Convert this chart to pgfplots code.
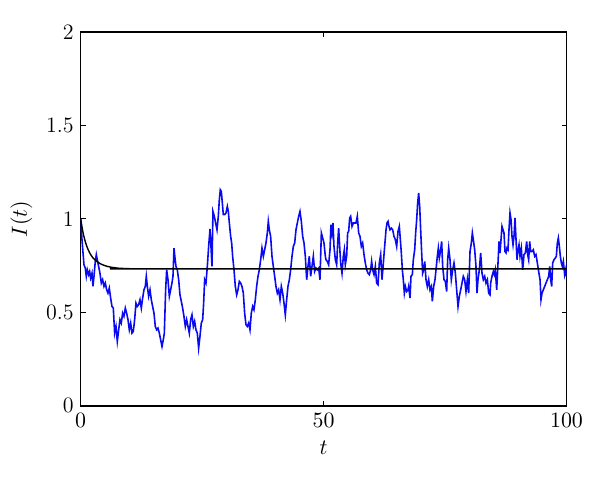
\documentclass[border=0pt]{standalone}
\usepackage{pgfplots}
\pgfplotsset{compat=1.18}

\pgfplotstableread{
t v
0.00 1.000
0.27 0.889
0.68 0.755
0.95 0.737
1.16 0.693
1.37 0.728
1.64 0.702
1.85 0.719
2.05 0.684
2.33 0.710
2.53 0.639
2.74 0.693
3.01 0.773
3.22 0.809
3.42 0.782
3.70 0.746
3.97 0.710
4.25 0.657
4.52 0.675
4.80 0.639
5.07 0.657
5.35 0.621
5.62 0.603
5.89 0.630
6.17 0.577
6.44 0.532
6.72 0.523
6.99 0.389
7.27 0.425
7.54 0.345
7.82 0.407
8.09 0.461
8.36 0.443
8.64 0.496
8.91 0.479
9.19 0.523
9.46 0.496
9.74 0.461
10.01 0.407
10.29 0.443
10.56 0.389
10.83 0.398
11.11 0.461
11.38 0.550
11.66 0.532
11.93 0.541
12.21 0.568
12.48 0.523
12.76 0.577
13.03 0.621
13.30 0.639
13.51 0.693
13.72 0.639
13.99 0.586
14.27 0.621
14.54 0.568
14.81 0.532
15.09 0.496
15.36 0.425
15.64 0.407
15.91 0.416
16.19 0.389
16.46 0.354
16.74 0.318
17.01 0.354
17.22 0.389
17.49 0.621
17.70 0.728
17.97 0.675
18.25 0.586
18.52 0.621
18.79 0.657
19.00 0.693
19.21 0.844
19.41 0.791
19.62 0.746
19.89 0.728
20.17 0.675
20.44 0.594
20.72 0.559
20.99 0.523
21.26 0.479
21.54 0.425
21.81 0.461
22.09 0.425
22.36 0.389
22.64 0.461
22.91 0.487
23.19 0.425
23.46 0.452
23.73 0.407
24.01 0.389
24.28 0.309
24.56 0.372
24.83 0.443
25.11 0.461
25.31 0.550
25.52 0.675
25.79 0.657
26.07 0.746
26.34 0.853
26.62 0.946
26.82 0.853
27.03 0.746
27.23 1.040
27.51 1.014
27.78 0.978
28.06 0.942
28.33 1.014
28.54 1.103
28.74 1.156
28.95 1.147
29.16 1.085
29.36 1.023
29.64 1.023
29.91 1.032
30.19 1.067
30.39 1.040
30.60 0.978
30.87 0.907
31.08 0.871
31.28 0.800
31.56 0.728
31.83 0.639
32.11 0.594
32.38 0.621
32.66 0.666
32.93 0.657
33.20 0.639
33.48 0.603
33.75 0.496
34.03 0.434
34.30 0.425
34.58 0.443
34.85 0.407
35.12 0.496
35.40 0.532
35.67 0.514
35.95 0.568
36.22 0.639
36.50 0.693
36.77 0.728
37.05 0.782
37.32 0.844
37.60 0.800
37.87 0.835
38.14 0.871
38.42 0.925
38.62 0.987
38.83 0.942
39.10 0.907
39.38 0.800
39.65 0.746
39.93 0.693
40.20 0.639
40.48 0.603
40.75 0.621
41.03 0.568
41.30 0.639
41.58 0.603
41.85 0.550
42.12 0.487
42.40 0.568
42.67 0.639
42.95 0.675
43.22 0.728
43.50 0.800
43.77 0.853
44.05 0.871
44.32 0.942
44.59 0.978
44.87 1.014
45.14 1.040
45.42 0.987
45.69 0.907
45.97 0.871
46.24 0.800
46.52 0.675
46.79 0.746
47.06 0.800
47.34 0.693
47.61 0.746
47.89 0.800
48.16 0.719
48.44 0.737
48.71 0.728
48.99 0.737
49.26 0.675
49.54 0.925
49.81 0.898
50.08 0.871
50.36 0.800
50.49 0.782
50.77 0.773
51.04 0.755
51.32 0.835
51.52 0.969
51.73 0.925
51.93 0.978
52.14 0.853
52.42 0.782
52.69 0.755
52.90 0.871
53.10 0.951
53.31 0.853
53.51 0.764
53.79 0.710
54.06 0.800
54.27 0.835
54.47 0.755
54.75 0.800
54.95 0.925
55.16 0.933
55.37 1.005
55.57 1.014
55.85 0.960
56.12 0.978
56.39 0.978
56.67 0.978
56.94 1.014
57.22 0.925
57.49 0.907
57.77 0.853
58.04 0.871
58.32 0.809
58.59 0.764
58.87 0.728
59.14 0.710
59.41 0.702
59.69 0.728
59.89 0.773
60.10 0.728
60.38 0.702
60.65 0.746
60.92 0.657
61.20 0.648
61.47 0.764
61.75 0.809
62.02 0.675
62.30 0.764
62.57 0.853
62.85 0.942
63.05 0.978
63.26 0.987
63.46 0.960
63.67 0.942
63.94 0.951
64.22 0.942
64.49 0.907
64.77 0.889
65.04 0.853
65.32 0.933
65.59 0.960
65.80 0.889
66.00 0.818
66.21 0.728
66.41 0.675
66.62 0.603
66.83 0.639
67.10 0.612
67.37 0.621
67.51 0.639
67.79 0.577
67.99 0.693
68.27 0.702
68.47 0.782
68.75 0.835
68.95 0.925
69.16 0.996
69.36 1.085
69.57 1.139
69.78 1.067
69.98 0.942
70.19 0.818
70.39 0.710
70.60 0.728
70.82 0.773
71.08 0.675
71.35 0.639
71.63 0.675
71.90 0.621
72.18 0.639
72.38 0.559
72.66 0.639
72.93 0.675
73.14 0.728
73.41 0.800
73.62 0.844
73.82 0.791
74.10 0.835
74.30 0.880
74.51 0.746
74.79 0.675
75.06 0.666
75.33 0.612
75.54 0.782
75.75 0.844
76.02 0.782
76.29 0.675
76.57 0.728
76.84 0.764
77.12 0.710
77.39 0.621
77.67 0.532
77.94 0.586
78.22 0.621
78.49 0.657
78.76 0.693
79.04 0.675
79.31 0.612
79.59 0.675
79.86 0.603
80.14 0.826
80.41 0.871
80.62 0.925
80.82 0.889
81.10 0.835
81.37 0.746
81.58 0.603
81.78 0.675
82.06 0.728
82.33 0.818
82.61 0.710
82.88 0.675
83.16 0.693
83.43 0.657
83.71 0.675
83.98 0.603
84.25 0.594
84.39 0.657
84.66 0.693
84.94 0.719
85.14 0.702
85.35 0.728
85.63 0.621
85.90 0.764
86.11 0.880
86.31 0.818
86.52 0.889
86.72 0.960
86.93 0.942
87.13 0.925
87.34 0.826
87.55 0.818
87.75 0.844
87.96 0.835
88.16 0.942
88.37 1.032
88.58 0.996
88.78 0.907
88.99 0.862
89.19 0.907
89.40 1.005
89.61 0.889
89.81 0.782
90.02 0.835
90.22 0.862
90.43 0.800
90.70 0.844
90.98 0.728
91.25 0.809
91.53 0.818
91.80 0.880
92.01 0.809
92.21 0.782
92.42 0.880
92.62 0.826
92.90 0.826
93.17 0.835
93.45 0.800
93.72 0.809
94.00 0.764
94.27 0.719
94.55 0.675
94.75 0.568
94.96 0.603
95.23 0.621
95.51 0.639
95.78 0.657
96.06 0.675
96.33 0.693
96.54 0.746
96.74 0.675
96.95 0.639
97.15 0.764
97.43 0.782
97.70 0.791
97.91 0.800
98.11 0.871
98.32 0.898
98.53 0.853
98.73 0.800
98.94 0.764
99.14 0.746
99.35 0.773
99.62 0.702
99.90 0.737
100.00 0.693
}\stochastic

\pgfplotstableread{
t v
0.0 1.000
0.5 0.925
1.0 0.874
1.5 0.838
2.0 0.812
2.5 0.793
3.0 0.779
4.0 0.761
5.0 0.750
6.0 0.743
7.0 0.739
8.0 0.736
10.0 0.734
12.0 0.733
100.0 0.733
}\deterministic

\begin{document}
\begin{tikzpicture}
\begin{axis}[
    name=ax,
    scale only axis,
    width=243pt, height=187pt,
    xmin=0, xmax=100, ymin=0, ymax=2,
    xtick={0,50,100},
    ytick={0,0.5,1,1.5,2},
    yticklabels={0,0.5,1,1.5,2},
    tick align=inside,
    major tick length=2.5pt,
    tick style={black, line width=0.5pt},
    axis line style={line width=0.7pt},
    tick label style={font=\fontsize{11}{13}\selectfont},
    label style={font=\fontsize{11}{13}\selectfont},
    xlabel={$t$},
    ylabel={$I(t)$},
]
\addplot[color={rgb,255:red,10;green,10;blue,240}, line width=0.8pt] table[x=t, y=v] {\stochastic};
\addplot[black, line width=0.7pt, smooth] table[x=t, y=v] {\deterministic};
\end{axis}
\path[use as bounding box] ([xshift=-40.35pt, yshift=-39pt]ax.south west) rectangle ([xshift=16.75pt, yshift=16pt]ax.north east);
\end{tikzpicture}
\end{document}
